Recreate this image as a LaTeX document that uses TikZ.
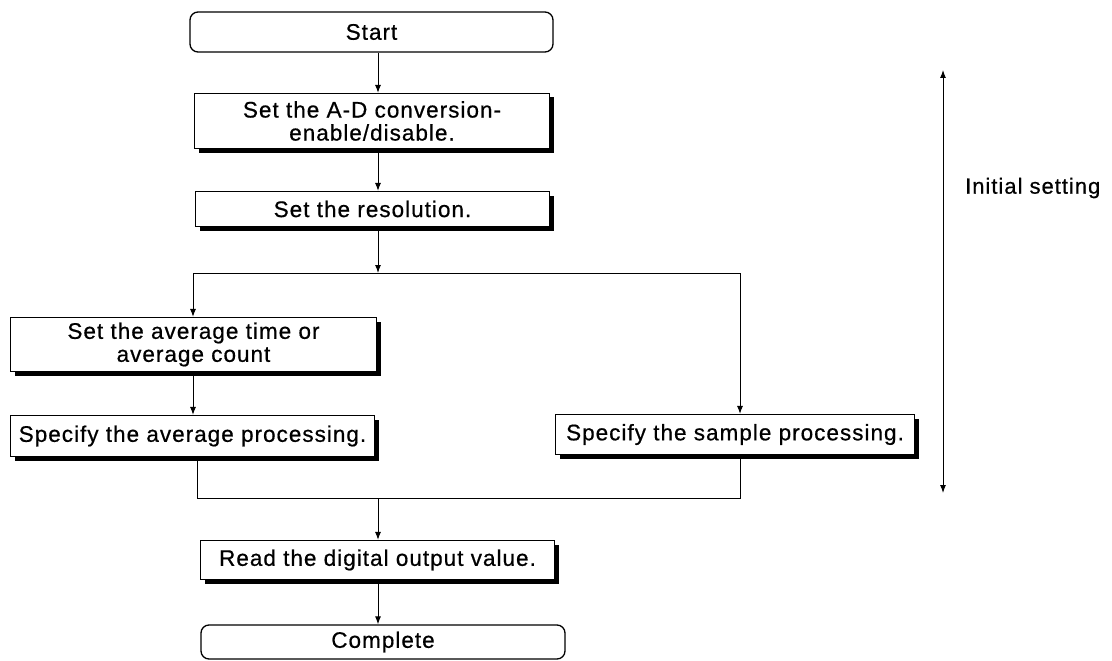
\documentclass[tikz,border=0pt]{standalone}
\usepackage{fontspec}
\setmainfont{Liberation Sans}[LetterSpace=4.5, FakeBold=0.6]
\usetikzlibrary{arrows.meta,shadows}
\begin{document}
\begin{tikzpicture}[x=1pt,y=-1pt,
  every node/.style={font=\fontsize{22.5}{23}\selectfont, inner sep=0pt, align=center},
  procbox/.style={draw, line width=1.1pt, fill=white, rectangle,
    drop shadow={shadow xshift=4pt, shadow yshift=-4pt, fill=black, opacity=1}},
  termbox/.style={draw, line width=1.3pt, fill=white, rounded corners=8pt},
  conn/.style={line width=1pt, -{Latex[length=8pt,width=6pt]}},
  line/.style={line width=1pt}]
\useasboundingbox (0,0) rectangle (1112,661);
% nodes
\node[termbox, minimum width=363pt, minimum height=40pt] (start) at (371.5,32) {Start};
\node[procbox, minimum width=355pt, minimum height=55pt] (b1) at (372,121) {Set the A-D conversion-\\enable/disable.};
\node[procbox, minimum width=354pt, minimum height=35pt] (b2) at (372.5,209) {Set the resolution.};
\node[procbox, minimum width=366pt, minimum height=54pt] (b3) at (193.5,344.5) {Set the average time or\\average count};
\node[procbox, minimum width=364pt, minimum height=41pt] (b4) at (192.5,436) {Specify the average processing.};
\node[procbox, minimum width=359pt, minimum height=40pt] (b5) at (735,434.5) {Specify the sample processing.};
\node[procbox, minimum width=354pt, minimum height=39pt] (b6) at (377.5,560) {Read the digital output value.};
\node[termbox, minimum width=364pt, minimum height=34pt] (end) at (383,642) {Complete};
\node[font=\fontsize{22}{23}\selectfont, anchor=west] (lbl) at (965,188) {Initial setting};
% helper coordinates
\coordinate (trunk) at (378,0);
\coordinate (split) at (0,273);
\coordinate (merge) at (0,498);
\coordinate (lx) at (193,0);
\coordinate (lx2) at (197,0);
\coordinate (rx) at (740,0);
\coordinate (itop) at (943,70);
\coordinate (ibot) at (943,493);
% connectors
\draw[conn] (start.south -| trunk) -- (b1.north -| trunk);
\draw[conn] (b1.south -| trunk) -- (b2.north -| trunk);
\draw[conn] (b2.south -| trunk) -- (split -| trunk);
\draw[line] (split -| lx) -- (split -| rx);
\draw[conn] (split -| lx) -- (b3.north -| lx);
\draw[conn] (split -| rx) -- (b5.north -| rx);
\draw[conn] (b3.south -| lx) -- (b4.north -| lx);
\draw[line] (b4.south -| lx2) -- (merge -| lx2) -- (merge -| rx) -- (b5.south -| rx);
\draw[conn] (merge -| trunk) -- (b6.north -| trunk);
\draw[conn] (b6.south -| trunk) -- (end.north -| trunk);
\draw[line width=1pt, {Latex[length=8pt,width=6pt]}-{Latex[length=8pt,width=6pt]}] (itop) -- (ibot);
\end{tikzpicture}
\end{document}
